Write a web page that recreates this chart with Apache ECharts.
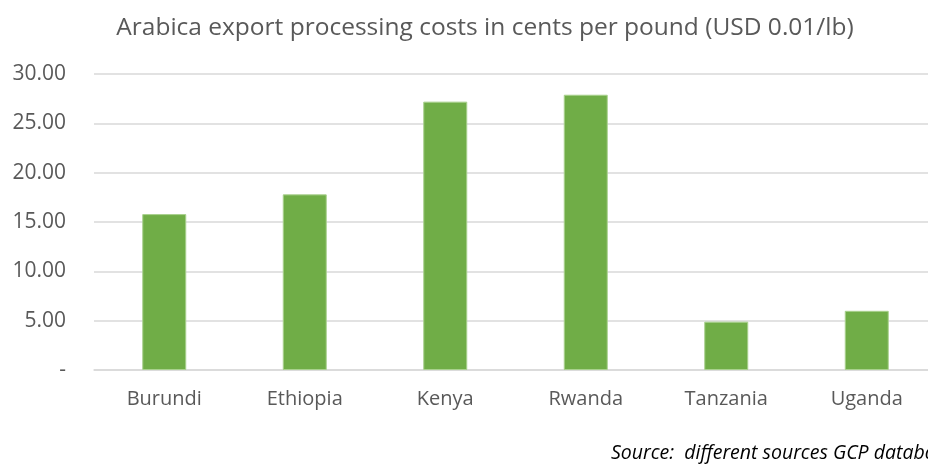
<!DOCTYPE html>
<html>
<head>
<meta charset="utf-8">
<script src="https://cdn.jsdelivr.net/npm/echarts@6/dist/echarts.min.js"></script>
<style>
    html, body { margin: 0; padding: 0; background: #fff; }
    #chart { width: 928px; height: 469px; }
</style>
</head>
<body>
<div id="chart"></div>
<script>
    // data
    const countries = ['Burundi', 'Ethiopia', 'Kenya', 'Rwanda', 'Tanzania', 'Uganda'];
    const costs = [15.8, 17.8, 27.2, 27.9, 4.9, 6.0];
    const yTicks = [0, 5, 10, 15, 20, 25, 30];
    const yTickLabels = ['-', '5.00', '10.00', '15.00', '20.00', '25.00', '30.00'];

    const fontFamily = '"Open Sans", "Noto Sans", sans-serif';
    const textGrey = '#595959';

    let chart = echarts.init(document.getElementById('chart'));
    chart.setOption({
        animation: false,
        title: {
            text: 'Arabica export processing costs in cents per pound (USD 0.01/lb)',
            left: 480,
            textAlign: 'center',
            top: 11,
            textStyle: {
                fontFamily,
                fontSize: 24.5,
                fontWeight: 'normal',
                color: textGrey
            }
        },
        graphic: [{
            type: 'text',
            left: 611,
            top: 443,
            style: {
                text: 'Source:  different sources GCP database',
                font: 'italic 19.5px ' + fontFamily,
                fill: '#000'
            }
        }],
        grid: {
            left: 94,
            right: -9,
            top: 74,
            height: 296,
            outerBoundsMode: 'none'
        },
        xAxis: {
            type: 'category',
            data: countries,
            axisLine: { lineStyle: { color: '#d9d9d9', width: 1.5 } },
            axisTick: { show: false },
            axisLabel: {
                fontFamily,
                fontSize: 20,
                color: textGrey,
                margin: 19
            }
        },
        yAxis: {
            type: 'value',
            min: yTicks[0],
            max: yTicks[yTicks.length - 1],
            interval: 5,
            axisLine: { show: false },
            axisTick: { show: false },
            splitLine: { lineStyle: { color: '#d9d9d9', width: 1.5 } },
            axisLabel: {
                fontFamily,
                fontSize: 21,
                color: textGrey,
                margin: 28,
                formatter: value => yTickLabels[yTicks.indexOf(value)]
            }
        },
        series: [{
            type: 'bar',
            data: costs,
            barWidth: 44,
            itemStyle: {
                color: '#70ad47',
                borderColor: '#a9d18e',
                borderWidth: 1
            }
        }]
    });
</script>
</body>
</html>
